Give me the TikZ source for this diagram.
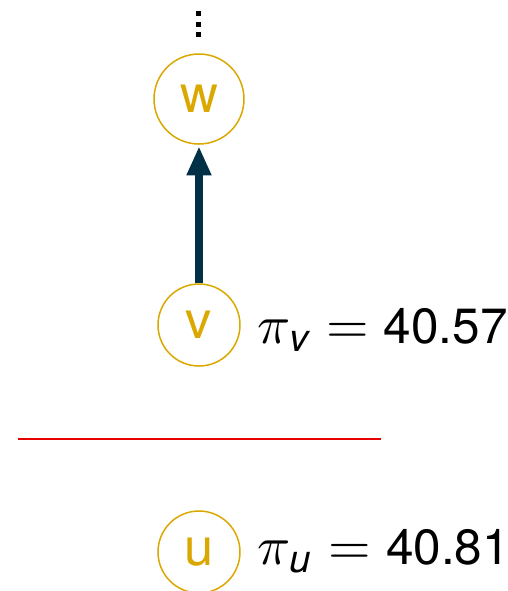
\documentclass[tikz,border=0pt]{standalone}
\usepackage{amsmath}
\usepackage{fontspec}
\setsansfont{TeX Gyre Heros}
\usepackage{tikz}
\usetikzlibrary{arrows.meta,positioning}
\definecolor{NodeGold}{RGB}{218,168,0}
\definecolor{DeepTeal}{RGB}{2,48,71}
\definecolor{CutRed}{RGB}{230,0,0}
\tikzset{
	vertex/.style={circle,draw=NodeGold,line width=0.3pt,text=NodeGold,
		font=\sffamily\fontsize{10.5}{12}\selectfont,minimum size=16.4pt,inner sep=0pt},
	potential/.style={font=\fontsize{11}{13}\selectfont,inner sep=0pt,anchor=base west}
}

\begin{document}
\begin{tikzpicture}[x=0.2pt,y=-0.2pt]
			\useasboundingbox (0,0) rectangle (508,591);
			% vertical ellipsis above w
			\foreach \y in {13,24,34}
				\fill (196.5,\y-2.5) rectangle (201.5,\y+2.5);
			
			\node[vertex,minimum size=18pt] (w) at (199,99) {w};
			\node[vertex] (v) at (199,325) {v};
			\node[vertex] (u) at (199,552) {u};
			
			\draw[-{Triangle[length=5.8pt,width=4.6pt]},line width=1.6pt,DeepTeal,shorten >=0.3pt] (v) -- (w);
			
			\node[potential] (piv) at (257,343) {$\pi_{\textsf{\itshape v}} = \textsf{\fontsize{9.9}{12}\selectfont 40.57}$};
			\node[potential] (piu) at (257,564) {$\pi_{\textsf{\itshape u}} = \textsf{\fontsize{9.9}{12}\selectfont 40.81}$};
			
			% cut between v and u
			\coordinate (cutL) at (18,439);
			\coordinate (cutR) at (381,439);
			\draw[CutRed,line width=0.3pt] (cutL) -- (cutR);
		\end{tikzpicture}
\end{document}
